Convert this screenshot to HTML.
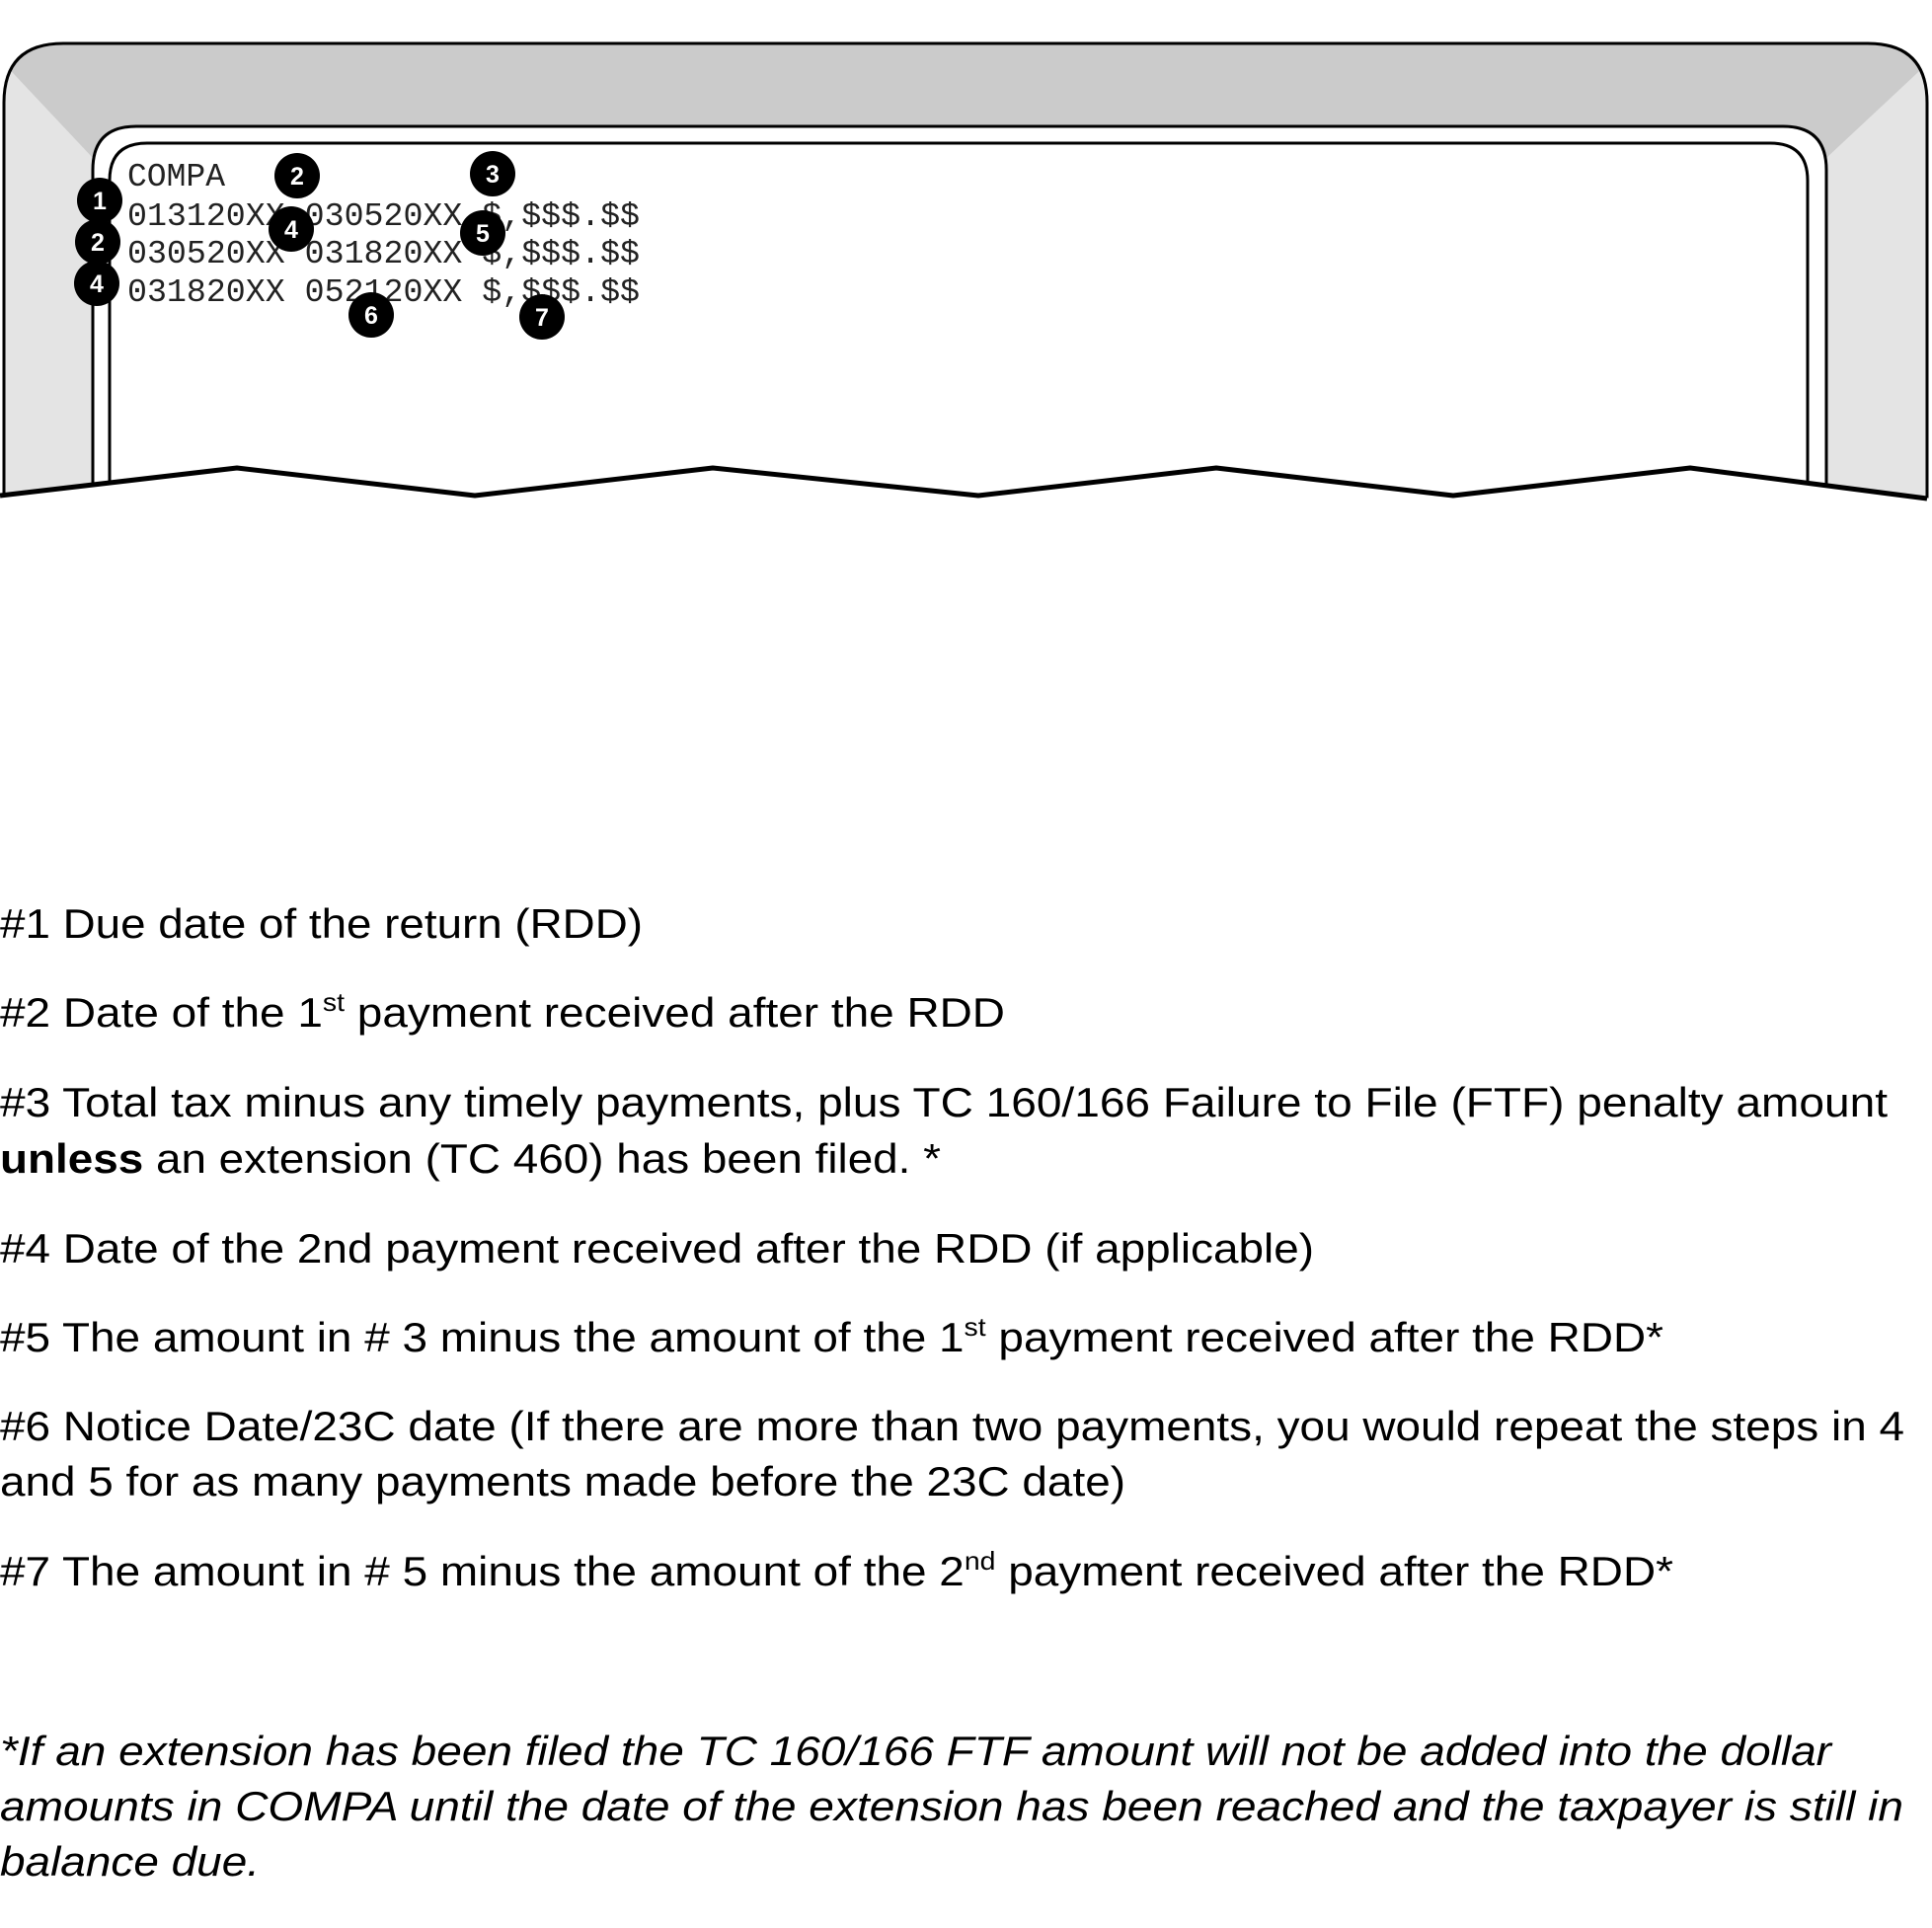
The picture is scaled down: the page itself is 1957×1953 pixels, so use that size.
<!DOCTYPE html>
<html><head><meta charset="utf-8"><style>
html,body{margin:0;padding:0;background:#fff;}
svg{display:block;}
.t{font-family:"Liberation Sans",Arial,sans-serif;font-size:42px;fill:#000;}
.m{font-family:"Liberation Mono","Courier New",monospace;font-size:33px;fill:#222;}
.n{font-family:"Liberation Sans",Arial,sans-serif;font-size:25px;font-weight:bold;fill:#fff;text-anchor:middle;}
</style></head><body>
<svg width="1957" height="1953" viewBox="0 0 1957 1953" xmlns="http://www.w3.org/2000/svg">
<defs>
<clipPath id="oc"><path d="M4,520 L4,104 Q4,44 64,44 L1892,44 Q1952,44 1952,104 L1952,520 Z"/></clipPath>
</defs>
<path d="M4,520 L4,104 Q4,44 64,44 L1892,44 Q1952,44 1952,104 L1952,520 Z" fill="#e4e4e4"/>
<g clip-path="url(#oc)">
<polygon points="0,0 1957,0 1957,60 1850,160 94,160 0,60" fill="#cbcbcb"/>
</g>
<path d="M4,520 L4,104 Q4,44 64,44 L1892,44 Q1952,44 1952,104 L1952,520" fill="none" stroke="#000" stroke-width="3"/>
<path d="M94,520 L94,172 Q94,128 138,128 L1806,128 Q1850,128 1850,172 L1850,520 Z" fill="#fff"/>
<path d="M94,520 L94,172 Q94,128 138,128 L1806,128 Q1850,128 1850,172 L1850,520" fill="none" stroke="#000" stroke-width="3"/>
<path d="M111,520 L111,183 Q111,145 149,145 L1793,145 Q1831,145 1831,183 L1831,520" fill="none" stroke="#000" stroke-width="3"/>
<polygon points="0,502 240,474 481,502 722,474 991,502 1232,474 1472,502 1712,474 1957,505 1957,560 0,560" fill="#fff"/>
<polyline points="0,502 240,474 481,502 722,474 991,502 1232,474 1472,502 1712,474 1952,505" fill="none" stroke="#000" stroke-width="5" stroke-linejoin="round"/>
<text class="m" x="129" y="188">COMPA</text>
<text class="m" x="129" y="228" textLength="519" lengthAdjust="spacingAndGlyphs">013120XX 030520XX $,$$$.$$</text>
<text class="m" x="129" y="266" textLength="519" lengthAdjust="spacingAndGlyphs">030520XX 031820XX $,$$$.$$</text>
<text class="m" x="129" y="305" textLength="519" lengthAdjust="spacingAndGlyphs">031820XX 052120XX $,$$$.$$</text>
<g>
<circle cx="101" cy="203" r="23" fill="#000"/><text class="n" x="101" y="212">1</text>
<circle cx="99" cy="245" r="23" fill="#000"/><text class="n" x="99" y="254">2</text>
<circle cx="98" cy="287" r="23" fill="#000"/><text class="n" x="98" y="296">4</text>
<circle cx="301" cy="178" r="23" fill="#000"/><text class="n" x="301" y="187">2</text>
<circle cx="499" cy="176" r="23" fill="#000"/><text class="n" x="499" y="185">3</text>
<circle cx="295" cy="232" r="23" fill="#000"/><text class="n" x="295" y="241">4</text>
<circle cx="489" cy="236" r="23" fill="#000"/><text class="n" x="489" y="245">5</text>
<circle cx="376" cy="319" r="23" fill="#000"/><text class="n" x="376" y="328">6</text>
<circle cx="549" cy="321" r="23" fill="#000"/><text class="n" x="549" y="330">7</text>
</g>
<text class="t" x="0" y="950" textLength="651" lengthAdjust="spacingAndGlyphs">#1 Due date of the return (RDD)</text>
<text class="t" x="0" y="1040" textLength="1018" lengthAdjust="spacingAndGlyphs">#2 Date of the 1<tspan font-size="26" dy="-16">st</tspan><tspan dy="16"> payment received after the RDD</tspan></text>
<text class="t" x="0" y="1131" textLength="1912" lengthAdjust="spacingAndGlyphs">#3 Total tax minus any timely payments, plus TC 160/166 Failure to File (FTF) penalty amount</text>
<text class="t" x="0" y="1188" textLength="953" lengthAdjust="spacingAndGlyphs"><tspan font-weight="bold">unless</tspan> an extension (TC 460) has been filed. *</text>
<text class="t" x="0" y="1279" textLength="1331" lengthAdjust="spacingAndGlyphs">#4 Date of the 2nd payment received after the RDD (if applicable)</text>
<text class="t" x="0" y="1369" textLength="1685" lengthAdjust="spacingAndGlyphs">#5 The amount in # 3 minus the amount of the 1<tspan font-size="26" dy="-16">st</tspan><tspan dy="16"> payment received after the RDD*</tspan></text>
<text class="t" x="0" y="1459" textLength="1929" lengthAdjust="spacingAndGlyphs">#6 Notice Date/23C date (If there are more than two payments, you would repeat the steps in 4</text>
<text class="t" x="0" y="1515" textLength="1140" lengthAdjust="spacingAndGlyphs">and 5 for as many payments made before the 23C date)</text>
<text class="t" x="0" y="1606" textLength="1695" lengthAdjust="spacingAndGlyphs">#7 The amount in # 5 minus the amount of the 2<tspan font-size="26" dy="-16">nd</tspan><tspan dy="16"> payment received after the RDD*</tspan></text>
<text class="t" x="0" y="1788" font-style="italic" textLength="1855" lengthAdjust="spacingAndGlyphs">*If an extension has been filed the TC 160/166 FTF amount will not be added into the dollar</text>
<text class="t" x="0" y="1844" font-style="italic" textLength="1928" lengthAdjust="spacingAndGlyphs">amounts in COMPA until the date of the extension has been reached and the taxpayer is still in</text>
<text class="t" x="0" y="1900" font-style="italic" textLength="263" lengthAdjust="spacingAndGlyphs">balance due.</text>
</svg>
</body></html>
